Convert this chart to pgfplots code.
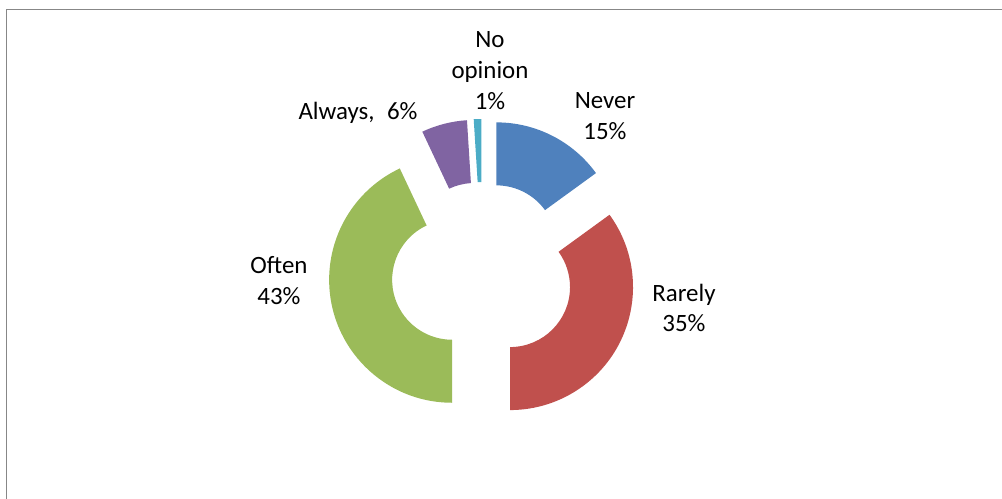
\documentclass[border=0pt]{standalone}
\usepackage{pgfplots}
\usepackage{pgfplotstable}
\pgfplotsset{compat=1.18}
\usetikzlibrary{calc}
\usepackage{fontspec}
\setmainfont{Carlito}

\definecolor{col0}{HTML}{4F81BD}
\definecolor{col1}{HTML}{C0504D}
\definecolor{col2}{HTML}{9BBB59}
\definecolor{col3}{HTML}{8064A2}
\definecolor{col4}{HTML}{4BACC6}
\definecolor{framegray}{HTML}{878787}

\pgfplotstableread{
label value
Never 15
Rarely 35
Often 43
Always 6
NoOpinion 1
}\datatable

\begin{document}
\begin{tikzpicture}
\useasboundingbox (0,0) rectangle (1002bp,499bp);
% cumulative angles (clockwise from 12 o'clock)
\pgfplotstablegetrowsof{\datatable}
\pgfmathtruncatemacro\nrows{\pgfplotsretval-1}
\gdef\cum{0}
\foreach \i in {0,...,\nrows}{%
  \pgfplotstablegetelem{\i}{value}\of\datatable
  \pgfmathsetmacro\a{90-3.6*\cum}
  \pgfmathsetmacro\newcum{\cum+\pgfplotsretval}
  \pgfmathsetmacro\b{90-3.6*\newcum}
  \pgfmathsetmacro\m{(\a+\b)/2}
  \expandafter\xdef\csname sA\i\endcsname{\a}%
  \expandafter\xdef\csname sB\i\endcsname{\b}%
  \expandafter\xdef\csname sM\i\endcsname{\m}%
  \xdef\cum{\newcum}%
}
\begin{axis}[
  width=1002bp, height=499bp, scale only axis,
  xmin=0, xmax=1002, ymin=0, ymax=499,
  hide axis, clip=false,
]
% frame (top and left)
\draw[framegray, line width=1.5bp] (axis cs:6.5,0) -- (axis cs:6.5,489.5) -- (axis cs:1002,489.5);
% donut segments
\pgfplotsinvokeforeach{0,1,2,3,4}{%
  \edef\temp{\noexpand\fill[col#1]
    ($(axis cs:482.4,226)+(\csname sM#1\endcsname:31bp)+(\csname sA#1\endcsname:123bp)$)
    arc[start angle=\csname sA#1\endcsname, end angle=\csname sB#1\endcsname, radius=123bp]
    -- ($(axis cs:482.4,226)+(\csname sM#1\endcsname:31bp)+(\csname sB#1\endcsname:60bp)$)
    arc[start angle=\csname sB#1\endcsname, end angle=\csname sA#1\endcsname, radius=60bp]
    -- cycle;}%
  \temp
}
% labels
\tikzset{lab/.style={align=center, font=\fontsize{25}{31}\selectfont, inner sep=0pt}}
\node[lab] at (axis cs:490,428) {No\\opinion\\1\%};
\node[lab] at (axis cs:605,382.5) {Never\\15\%};
\node[lab] at (axis cs:358,386) {Always,\enspace 6\%};
\node[lab] at (axis cs:279,218) {Often\\43\%};
\node[lab] at (axis cs:684,191) {Rarely\\35\%};
\end{axis}
\end{tikzpicture}
\end{document}
